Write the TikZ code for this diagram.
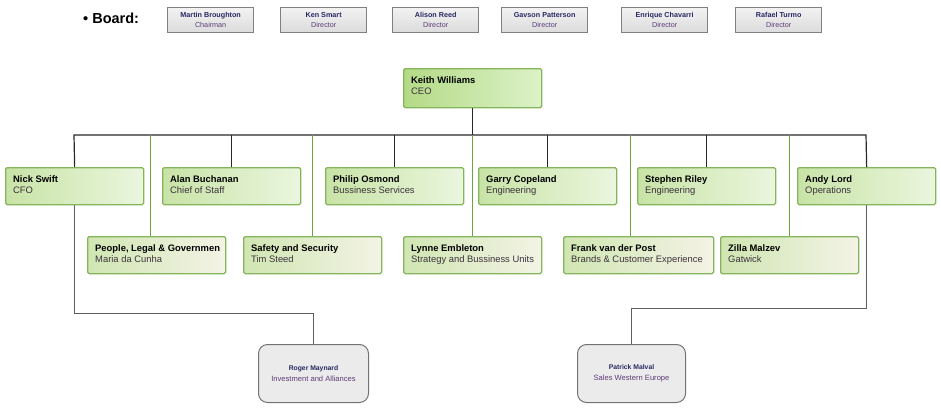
\documentclass[tikz,border=0pt]{standalone}
\usepackage{fontspec}
\setmainfont{Liberation Sans}
\definecolor{topL}{RGB}{200,227,166}
\definecolor{topR}{RGB}{234,246,222}
\definecolor{botL}{RGB}{208,230,178}
\definecolor{botR}{RGB}{244,243,230}
\definecolor{ceoL}{RGB}{180,218,134}
\definecolor{ceoR}{RGB}{220,242,200}
\definecolor{gborder}{RGB}{132,180,92}
\definecolor{gline}{RGB}{112,162,62}
\definecolor{kline}{RGB}{40,40,40}
\definecolor{dline}{RGB}{95,95,95}
\definecolor{bname}{RGB}{40,40,100}
\definecolor{brole}{RGB}{95,60,120}
\definecolor{rtext}{RGB}{60,50,60}
\tikzset{
  box/.style={rectangle, rounded corners=1.5pt, anchor=north west, inner sep=0pt, draw=gborder, line width=1.3pt,
    minimum width=138pt, minimum height=37pt},
  topbox/.style={box, left color=topL, right color=topR},
  botbox/.style={box, left color=botL, right color=botR},
  ceobox/.style={box, left color=ceoL, right color=ceoR, minimum height=39pt, line width=1.4pt},
  txt/.style={anchor=north west, inner sep=0pt, align=left, font=\fontsize{9.4}{11.5}\selectfont, text=black},
  boardbox/.style={rectangle, anchor=north west, inner sep=0pt, draw=black!50, line width=1.3pt,
    top color=black!5, bottom color=black!14, minimum width=86pt, minimum height=25pt,
    align=center, font=\fontsize{7.2}{10}\selectfont},
  lowbox/.style={rectangle, rounded corners=9pt, anchor=north west, inner sep=0pt, draw=black!55,
    line width=1pt, fill=black!8, minimum width=110pt, minimum height=58pt, align=center,
    font=\fontsize{7.6}{11}\selectfont},
  blk/.style={draw=kline, line width=1.2pt},
  grn/.style={draw=gline, line width=1pt},
  gry/.style={draw=dline, line width=1pt}
}
\newcommand\obox[6]{%
  \node[#4] (#1) at (#2,#3) {};
  \node[txt] (#1t) at ([shift={(8,8)}]#1.north west) {\textbf{#5}\\{\color{rtext}#6}};}
\newcommand\bbox[5]{%
  \node[boardbox] (#1) at (#2,#3) {{\color{bname}\bfseries #4}\\{\color{brole}#5}};}
\begin{document}
\begin{tikzpicture}[x=1pt,y=-1pt]
\useasboundingbox (0,0) rectangle (941,412);
% board
\node[anchor=west, inner sep=0pt, font=\fontsize{14.5}{16}\selectfont\bfseries] (boardlbl) at (83,18) {\textbullet\ Board:};
\bbox{b1}{167}{7}{Martin Broughton}{Chairman}
\bbox{b2}{280}{7}{Ken Smart}{Director}
\bbox{b3}{392}{7}{Alison Reed}{Director}
\bbox{b4}{501}{7}{Gavson Patterson}{Director}
\bbox{b5}{621}{7}{Enrique Chavarri}{Director}
\bbox{b6}{735}{7}{Rafael Turmo}{Director}
% CEO
\obox{keith}{403}{68}{ceobox}{Keith Williams}{CEO}
% top row
\obox{nick}{5}{167}{topbox}{Nick Swift}{CFO}
\obox{alan}{162}{167}{topbox}{Alan Buchanan}{Chief of Staff}
\obox{philip}{325}{167}{topbox}{Philip Osmond}{Bussiness Services}
\obox{garry}{478}{167}{topbox}{Garry Copeland}{Engineering}
\obox{stephen}{637}{167}{topbox}{Stephen Riley}{Engineering}
\obox{andy}{797}{167}{topbox}{Andy Lord}{Operations}
% bottom row
\obox{ppl}{87}{236}{botbox}{People, Legal \& Governmen}{Maria da Cunha}
\obox{safety}{243}{236}{botbox}{Safety and Security}{Tim Steed}
\obox{lynne}{403}{236}{botbox}{Lynne Embleton}{Strategy and Bussiness Units}
\obox{frank}{563}{236}{botbox, minimum width=150pt}{Frank van der Post}{Brands \& Customer Experience}
\obox{zilla}{720}{236}{botbox}{Zilla Malzev}{Gatwick}
% lower
\node[lowbox] (roger) at (258,344) {{\fontsize{6.8}{11}\selectfont\bfseries\color{bname}Roger Maynard}\\{\color{brole}Investment and Alliances}};
\node[lowbox, minimum width=108pt] (patrick) at (577,344) {{\fontsize{6.8}{11}\selectfont\bfseries\color{bname}Patrick Malval}\\{\color{brole}Sales Western Europe}};
% bar
\coordinate (barL) at (74,135);
\coordinate (barR) at (866,135);
\draw[blk] (keith.south) -- (keith.south |- barL);
\draw[blk] (nick.north) -- (barL) -- (barR) -- (andy.north);
\draw[blk] (alan.north) -- (alan.north |- barL);
\draw[blk] (philip.north) -- (philip.north |- barL);
\draw[blk] (garry.north) -- (garry.north |- barL);
\draw[blk] (stephen.north) -- (stephen.north |- barL);
\draw[grn] (ppl.north west) ++(63,0) coordinate (pplc) -- (pplc |- barL);
\draw[grn] (safety.north) -- (safety.north |- barL);
\draw[grn] (lynne.north) -- (lynne.north |- barL);
\draw[grn] (frank.north west) ++(67,0) coordinate (frankc) -- (frankc |- barL);
\draw[grn] (zilla.north) -- (zilla.north |- barL);
\coordinate (nickmid) at (0,313);
\coordinate (andymid) at (0,308);
\draw[gry] (nick.south) -- (nick.south |- nickmid) -| (roger.north);
\draw[gry] (andy.south) -- (andy.south |- andymid) -| (patrick.north);
\end{tikzpicture}
\end{document}
